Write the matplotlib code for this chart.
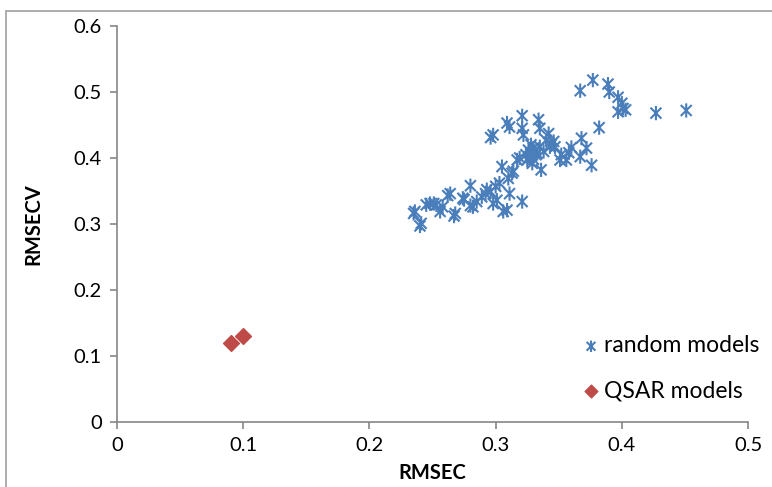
import numpy as np
import matplotlib.pyplot as plt
from matplotlib.path import Path
from matplotlib.patches import Rectangle

# random models (RMSEC, RMSECV)
rand_x = [0.367, 0.377, 0.389, 0.390, 0.397, 0.400, 0.401, 0.397, 0.403, 0.427,
          0.451, 0.382, 0.368, 0.372, 0.376, 0.367, 0.360, 0.356, 0.351, 0.346,
          0.342, 0.347, 0.334, 0.335, 0.321, 0.321, 0.322, 0.309, 0.311, 0.298,
          0.296, 0.330, 0.333, 0.327, 0.335, 0.325, 0.319, 0.317, 0.329, 0.336,
          0.340, 0.343, 0.305, 0.313, 0.310, 0.303, 0.300, 0.296, 0.292, 0.289,
          0.280, 0.311, 0.321, 0.306, 0.309, 0.301, 0.298, 0.285, 0.282, 0.280,
          0.274, 0.268, 0.267, 0.264, 0.262, 0.256, 0.253, 0.248, 0.251, 0.245,
          0.236, 0.235, 0.241, 0.240, 0.258, 0.275, 0.331, 0.328, 0.332, 0.326,
          0.338, 0.344, 0.352, 0.358, 0.324, 0.330, 0.314, 0.293]
rand_y = [0.502, 0.518, 0.512, 0.500, 0.492, 0.483, 0.475, 0.470, 0.473, 0.468,
          0.472, 0.446, 0.430, 0.415, 0.389, 0.402, 0.416, 0.397, 0.397, 0.425,
          0.437, 0.417, 0.458, 0.445, 0.464, 0.445, 0.435, 0.453, 0.447, 0.435,
          0.431, 0.415, 0.407, 0.402, 0.417, 0.397, 0.400, 0.397, 0.392, 0.382,
          0.427, 0.417, 0.387, 0.377, 0.369, 0.362, 0.357, 0.349, 0.346, 0.341,
          0.358, 0.346, 0.334, 0.319, 0.321, 0.336, 0.331, 0.334, 0.326, 0.328,
          0.339, 0.316, 0.312, 0.346, 0.343, 0.319, 0.329, 0.331, 0.331, 0.329,
          0.319, 0.316, 0.301, 0.297, 0.326, 0.337, 0.410, 0.420, 0.405, 0.412,
          0.410, 0.420, 0.405, 0.408, 0.405, 0.398, 0.380, 0.352]

# QSAR models
qsar_x = [0.09, 0.10]
qsar_y = [0.12, 0.13]

blue = "#4a7ebb"
red = "#be4b48"

# Excel-style asterisk: X plus vertical bar
ast = Path([(-1, -1), (1, 1), (-1, 1), (1, -1), (0, -1.3), (0, 1.3)],
           [Path.MOVETO, Path.LINETO, Path.MOVETO, Path.LINETO, Path.MOVETO, Path.LINETO])

plt.rcParams['font.family'] = ['Lato', 'DejaVu Sans']

fig = plt.figure(figsize=(7.72, 4.87), dpi=100)
ax = fig.add_axes([0.1516, 0.1335, 0.8174, 0.8131])

ax.scatter(rand_x, rand_y, marker=ast, s=105, facecolor='none', edgecolor=blue,
           linewidths=1.5, label='random models', zorder=3)
ax.scatter(qsar_x, qsar_y, marker='D', s=65, color=red, label='QSAR models', zorder=3)

ax.set_xlim(0, 0.5)
ax.set_ylim(0, 0.6)
ax.set_xticks(np.arange(0, 0.51, 0.1))
ax.set_yticks(np.arange(0, 0.61, 0.1))
ax.set_xticklabels(['0', '0.1', '0.2', '0.3', '0.4', '0.5'])
ax.set_yticklabels(['0', '0.1', '0.2', '0.3', '0.4', '0.5', '0.6'])
ax.tick_params(labelsize=14.5, color='#868686', length=5, width=1.2, pad=6)

for s in ['top', 'right']:
    ax.spines[s].set_visible(False)
for s in ['left', 'bottom']:
    ax.spines[s].set_color('#868686')
    ax.spines[s].set_linewidth(1.2)

ax.set_xlabel('RMSEC', fontsize=14.5, fontweight='bold', labelpad=6)
ax.set_ylabel('RMSECV', fontsize=14.5, fontweight='bold', labelpad=22)

leg = ax.legend(loc='lower right', bbox_to_anchor=(1.05, 0.0), frameon=False, fontsize=16.5,
                handletextpad=0.05, labelspacing=1.05, handlelength=1.0, markerscale=0.8)

fig.patches.append(Rectangle((0.008, -0.1), 1.2, 1.078, transform=fig.transFigure,
                             fill=False, edgecolor='#a0a0a0', linewidth=1.2))

fig.savefig('out.png', dpi=100)
